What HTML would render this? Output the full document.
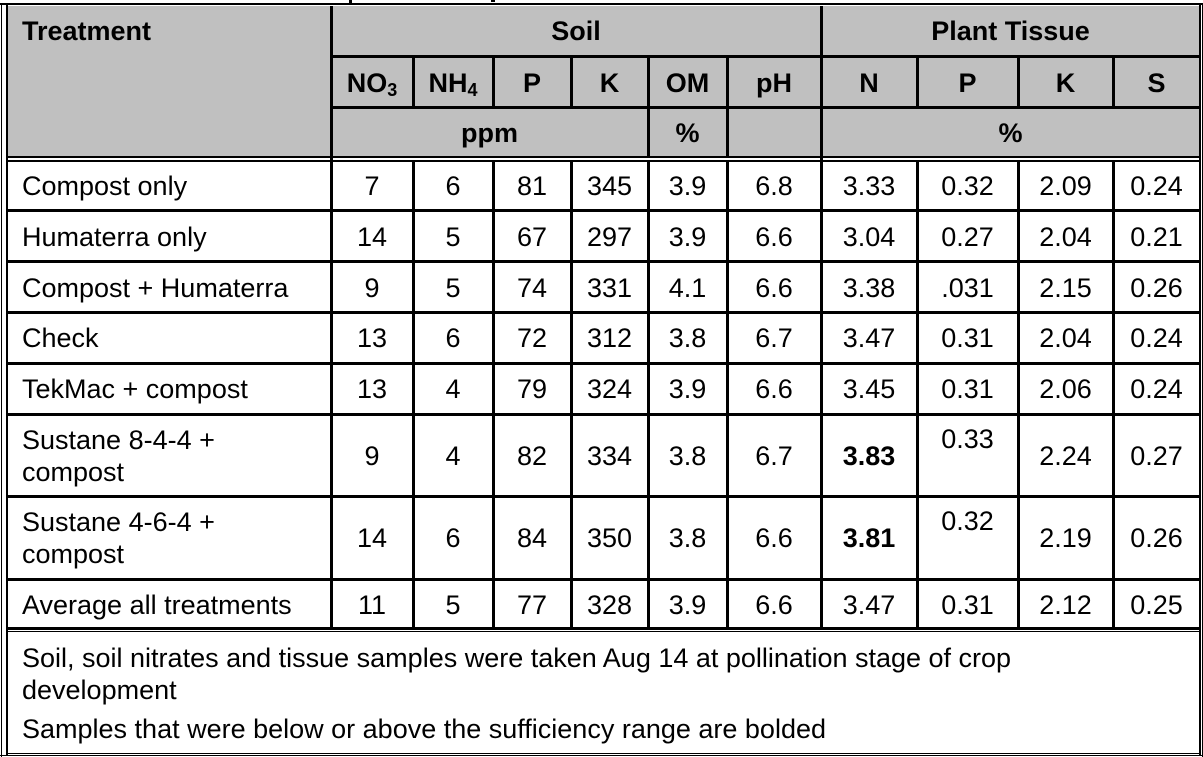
<!DOCTYPE html>
<html><head><meta charset="utf-8"><style>
body{margin:0;width:1203px;height:757px;background:#fff;position:relative;overflow:hidden;font-family:"Liberation Sans",Arial,sans-serif;font-size:27px;color:#000}
.l{position:absolute;background:#000}
.t{position:absolute;height:30px;line-height:30px;white-space:nowrap}
.c{text-align:center}
b{font-weight:bold}
sub{font-size:18px;vertical-align:-4px;line-height:0}
</style></head><body>
<div style="position:absolute;left:7px;top:6px;width:1193px;height:151px;background:#c0c0c0"></div>
<div class="l" style="left:0;top:3px;width:1203px;height:2px"></div>
<div class="l" style="left:1px;top:3px;width:1px;height:754px"></div>
<div class="l" style="left:6px;top:5px;width:2px;height:750px"></div>
<div class="l" style="left:1199px;top:5px;width:2px;height:750px"></div>
<div class="l" style="left:1202px;top:3px;width:1px;height:754px"></div>
<div class="l" style="left:331px;top:55px;width:869px;height:3px"></div>
<div class="l" style="left:331px;top:106px;width:869px;height:3px"></div>
<div class="l" style="left:7px;top:156px;width:1193px;height:2px"></div>
<div class="l" style="left:7px;top:160px;width:1193px;height:2px"></div>
<div class="l" style="left:7px;top:209px;width:1193px;height:3px"></div>
<div class="l" style="left:7px;top:260px;width:1193px;height:3px"></div>
<div class="l" style="left:7px;top:311px;width:1193px;height:3px"></div>
<div class="l" style="left:7px;top:362px;width:1193px;height:3px"></div>
<div class="l" style="left:7px;top:413px;width:1193px;height:3px"></div>
<div class="l" style="left:7px;top:495px;width:1193px;height:3px"></div>
<div class="l" style="left:7px;top:578px;width:1193px;height:3px"></div>
<div class="l" style="left:7px;top:627px;width:1193px;height:3px"></div>
<div class="l" style="left:7px;top:631px;width:1193px;height:1px"></div>
<div class="l" style="left:7px;top:753px;width:1193px;height:1px"></div>
<div class="l" style="left:0;top:755px;width:1203px;height:1px"></div>
<div class="l" style="left:330px;top:6px;width:3px;height:623px"></div>
<div class="l" style="left:820px;top:6px;width:3px;height:623px"></div>
<div class="l" style="left:412px;top:56px;width:3px;height:52px"></div>
<div class="l" style="left:492px;top:56px;width:3px;height:52px"></div>
<div class="l" style="left:570px;top:56px;width:3px;height:52px"></div>
<div class="l" style="left:647px;top:56px;width:3px;height:102px"></div>
<div class="l" style="left:726px;top:56px;width:3px;height:102px"></div>
<div class="l" style="left:916px;top:56px;width:3px;height:52px"></div>
<div class="l" style="left:1017px;top:56px;width:3px;height:52px"></div>
<div class="l" style="left:1112px;top:56px;width:3px;height:52px"></div>
<div class="l" style="left:412px;top:160px;width:3px;height:469px"></div>
<div class="l" style="left:492px;top:160px;width:3px;height:469px"></div>
<div class="l" style="left:570px;top:160px;width:3px;height:469px"></div>
<div class="l" style="left:647px;top:160px;width:3px;height:469px"></div>
<div class="l" style="left:726px;top:160px;width:3px;height:469px"></div>
<div class="l" style="left:916px;top:160px;width:3px;height:469px"></div>
<div class="l" style="left:1017px;top:160px;width:3px;height:469px"></div>
<div class="l" style="left:1112px;top:160px;width:3px;height:469px"></div>
<div class="l" style="left:349px;top:0;width:3px;height:3px"></div>
<div class="l" style="left:491px;top:0;width:4px;height:2px"></div>
<div class="t" style="left:22px;top:16px"><b>Treatment</b></div>
<div class="t c" style="left:331px;width:490px;top:16px"><b>Soil</b></div>
<div class="t c" style="left:821px;width:379px;top:16px"><b>Plant Tissue</b></div>
<div class="t c" style="left:331px;width:82px;top:68px"><b>NO<sub>3</sub></b></div>
<div class="t c" style="left:413px;width:80px;top:68px"><b>NH<sub>4</sub></b></div>
<div class="t c" style="left:493px;width:78px;top:68px"><b>P</b></div>
<div class="t c" style="left:571px;width:77px;top:68px"><b>K</b></div>
<div class="t c" style="left:648px;width:79px;top:68px"><b>OM</b></div>
<div class="t c" style="left:727px;width:94px;top:68px"><b>pH</b></div>
<div class="t c" style="left:821px;width:96px;top:68px"><b>N</b></div>
<div class="t c" style="left:917px;width:101px;top:68px"><b>P</b></div>
<div class="t c" style="left:1018px;width:95px;top:68px"><b>K</b></div>
<div class="t c" style="left:1113px;width:87px;top:68px"><b>S</b></div>
<div class="t c" style="left:331px;width:317px;top:118px"><b>ppm</b></div>
<div class="t c" style="left:648px;width:79px;top:118px"><b>%</b></div>
<div class="t c" style="left:821px;width:379px;top:118px"><b>%</b></div>
<div id="rows"></div>
<div class="t" style="left:22px;top:643px">Soil, soil nitrates and tissue samples were taken Aug 14 at pollination stage of crop</div>
<div class="t" style="left:22px;top:675px">development</div>
<div class="t" style="left:22px;top:714px">Samples that were below or above the sufficiency range are bolded</div>
<script>
var cols=[[331,82],[413,80],[493,78],[571,77],[648,79],[727,94],[821,96],[917,101],[1018,95],[1113,87]];
var rows=[
[171,["Compost only"],["7","6","81","345","3.9","6.8","3.33","0.32","2.09","0.24"]],
[222,["Humaterra only"],["14","5","67","297","3.9","6.6","3.04","0.27","2.04","0.21"]],
[273,["Compost + Humaterra"],["9","5","74","331","4.1","6.6","3.38",".031","2.15","0.26"]],
[323,["Check"],["13","6","72","312","3.8","6.7","3.47","0.31","2.04","0.24"]],
[374,["TekMac + compost"],["13","4","79","324","3.9","6.6","3.45","0.31","2.06","0.24"]],
[441,["Sustane 8-4-4 +","compost"],["9","4","82","334","3.8","6.7","<b>3.83</b>","0.33","2.24","0.27"]],
[523,["Sustane 4-6-4 +","compost"],["14","6","84","350","3.8","6.6","<b>3.81</b>","0.32","2.19","0.26"]],
[590,["Average all treatments"],["11","5","77","328","3.9","6.6","3.47","0.31","2.12","0.25"]]];
var h="";
rows.forEach(function(r){
 var y=r[0];
 if(r[1].length==2){
  h+='<div class="t" style="left:22px;top:'+(y-16)+'px">'+r[1][0]+'</div>';
  h+='<div class="t" style="left:22px;top:'+(y+16)+'px">'+r[1][1]+'</div>';
 } else h+='<div class="t" style="left:22px;top:'+y+'px">'+r[1][0]+'</div>';
 r[2].forEach(function(v,i){
  var yy=y; if(r[1].length==2 && i==7) yy=y-17;
  h+='<div class="t c" style="left:'+cols[i][0]+'px;width:'+cols[i][1]+'px;top:'+yy+'px">'+v+'</div>';
 });
});
document.getElementById("rows").innerHTML=h;
</script>
</body></html>
